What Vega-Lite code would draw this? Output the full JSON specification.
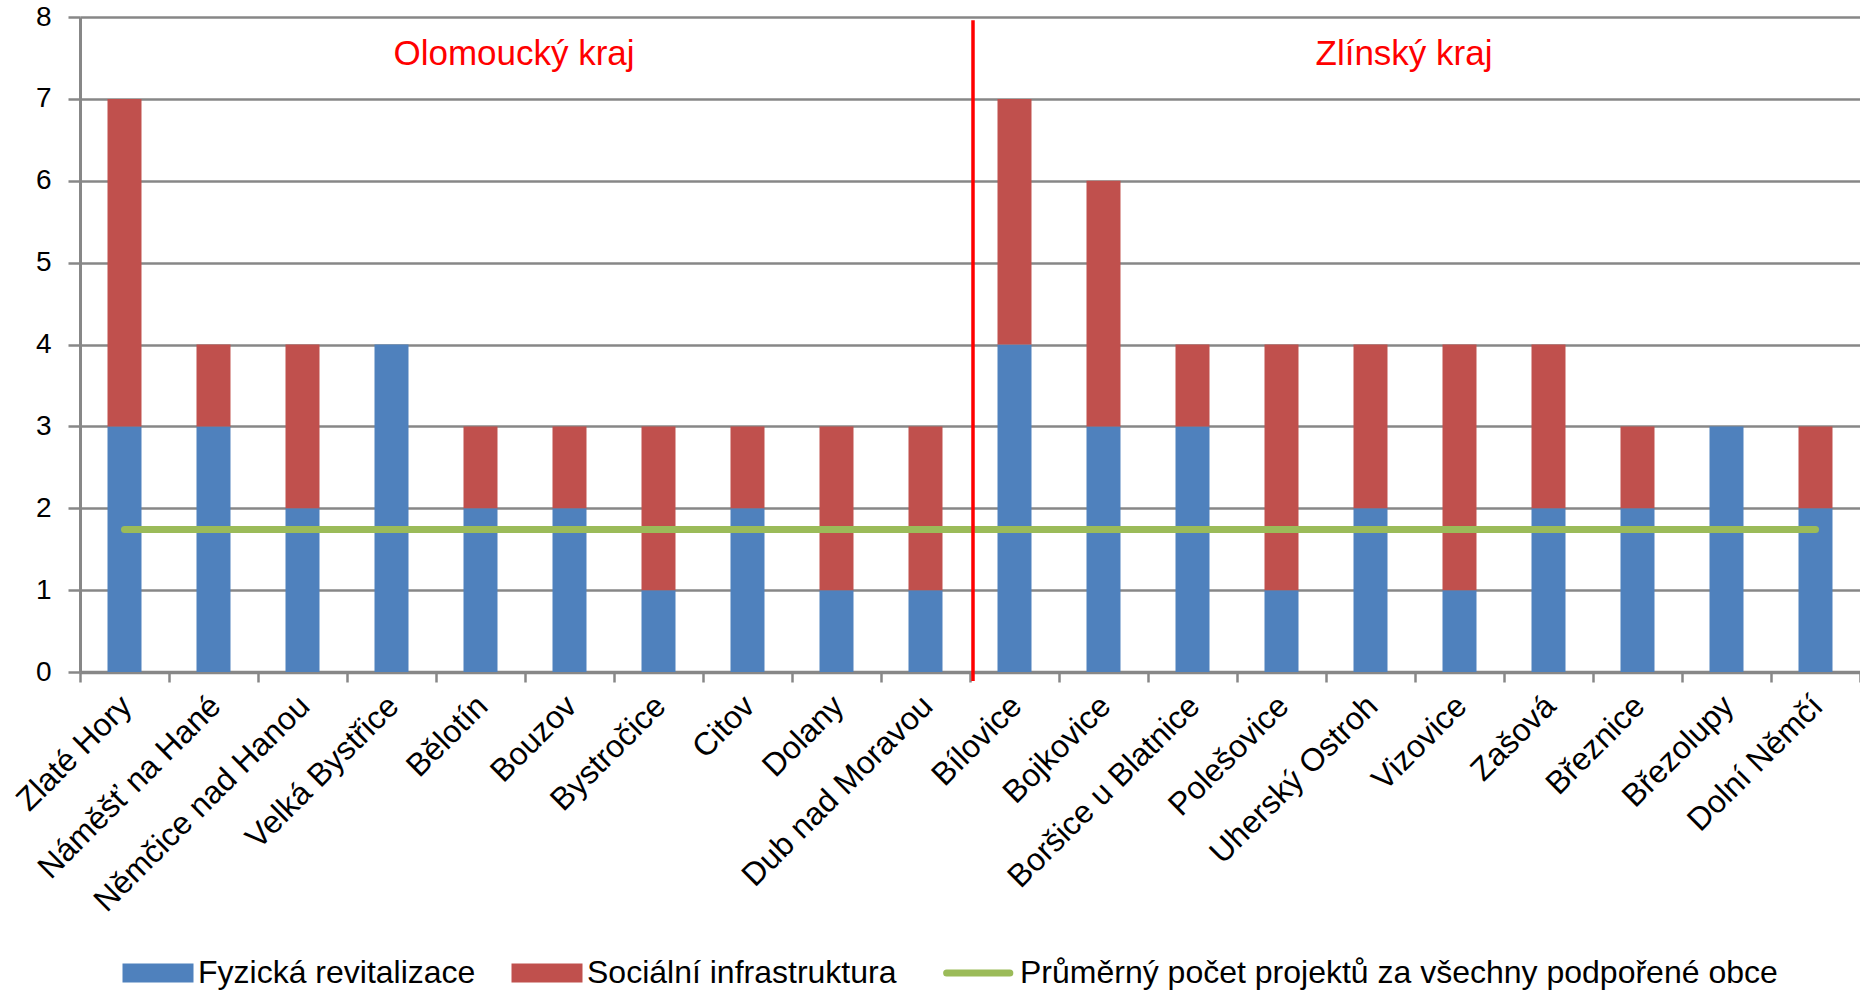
{
  "$schema": "https://vega.github.io/schema/vega-lite/v6.json",
  "width": 1780,
  "height": 655,
  "autosize": {"type": "none"},
  "padding": {"left": 80, "top": 17, "right": 0, "bottom": 318},
  "background": "white",
  "config": {
    "font": "Liberation Sans",
    "view": {"stroke": null},
    "axis": {"labelColor": "black", "titleColor": "black"}
  },
  "datasets": {
    "projekty": [
      {"obec": "Zlaté Hory", "kraj": "Olomoucký kraj", "typ": "Fyzická revitalizace", "pocet": 3},
      {"obec": "Zlaté Hory", "kraj": "Olomoucký kraj", "typ": "Sociální infrastruktura", "pocet": 4},
      {"obec": "Náměšť na Hané", "kraj": "Olomoucký kraj", "typ": "Fyzická revitalizace", "pocet": 3},
      {"obec": "Náměšť na Hané", "kraj": "Olomoucký kraj", "typ": "Sociální infrastruktura", "pocet": 1},
      {"obec": "Němčice nad Hanou", "kraj": "Olomoucký kraj", "typ": "Fyzická revitalizace", "pocet": 2},
      {"obec": "Němčice nad Hanou", "kraj": "Olomoucký kraj", "typ": "Sociální infrastruktura", "pocet": 2},
      {"obec": "Velká Bystřice", "kraj": "Olomoucký kraj", "typ": "Fyzická revitalizace", "pocet": 4},
      {"obec": "Velká Bystřice", "kraj": "Olomoucký kraj", "typ": "Sociální infrastruktura", "pocet": 0},
      {"obec": "Bělotín", "kraj": "Olomoucký kraj", "typ": "Fyzická revitalizace", "pocet": 2},
      {"obec": "Bělotín", "kraj": "Olomoucký kraj", "typ": "Sociální infrastruktura", "pocet": 1},
      {"obec": "Bouzov", "kraj": "Olomoucký kraj", "typ": "Fyzická revitalizace", "pocet": 2},
      {"obec": "Bouzov", "kraj": "Olomoucký kraj", "typ": "Sociální infrastruktura", "pocet": 1},
      {"obec": "Bystročice", "kraj": "Olomoucký kraj", "typ": "Fyzická revitalizace", "pocet": 1},
      {"obec": "Bystročice", "kraj": "Olomoucký kraj", "typ": "Sociální infrastruktura", "pocet": 2},
      {"obec": "Citov", "kraj": "Olomoucký kraj", "typ": "Fyzická revitalizace", "pocet": 2},
      {"obec": "Citov", "kraj": "Olomoucký kraj", "typ": "Sociální infrastruktura", "pocet": 1},
      {"obec": "Dolany", "kraj": "Olomoucký kraj", "typ": "Fyzická revitalizace", "pocet": 1},
      {"obec": "Dolany", "kraj": "Olomoucký kraj", "typ": "Sociální infrastruktura", "pocet": 2},
      {"obec": "Dub nad Moravou", "kraj": "Olomoucký kraj", "typ": "Fyzická revitalizace", "pocet": 1},
      {"obec": "Dub nad Moravou", "kraj": "Olomoucký kraj", "typ": "Sociální infrastruktura", "pocet": 2},
      {"obec": "Bílovice", "kraj": "Zlínský kraj", "typ": "Fyzická revitalizace", "pocet": 4},
      {"obec": "Bílovice", "kraj": "Zlínský kraj", "typ": "Sociální infrastruktura", "pocet": 3},
      {"obec": "Bojkovice", "kraj": "Zlínský kraj", "typ": "Fyzická revitalizace", "pocet": 3},
      {"obec": "Bojkovice", "kraj": "Zlínský kraj", "typ": "Sociální infrastruktura", "pocet": 3},
      {"obec": "Boršice u Blatnice", "kraj": "Zlínský kraj", "typ": "Fyzická revitalizace", "pocet": 3},
      {"obec": "Boršice u Blatnice", "kraj": "Zlínský kraj", "typ": "Sociální infrastruktura", "pocet": 1},
      {"obec": "Polešovice", "kraj": "Zlínský kraj", "typ": "Fyzická revitalizace", "pocet": 1},
      {"obec": "Polešovice", "kraj": "Zlínský kraj", "typ": "Sociální infrastruktura", "pocet": 3},
      {"obec": "Uherský Ostroh", "kraj": "Zlínský kraj", "typ": "Fyzická revitalizace", "pocet": 2},
      {"obec": "Uherský Ostroh", "kraj": "Zlínský kraj", "typ": "Sociální infrastruktura", "pocet": 2},
      {"obec": "Vizovice", "kraj": "Zlínský kraj", "typ": "Fyzická revitalizace", "pocet": 1},
      {"obec": "Vizovice", "kraj": "Zlínský kraj", "typ": "Sociální infrastruktura", "pocet": 3},
      {"obec": "Zašová", "kraj": "Zlínský kraj", "typ": "Fyzická revitalizace", "pocet": 2},
      {"obec": "Zašová", "kraj": "Zlínský kraj", "typ": "Sociální infrastruktura", "pocet": 2},
      {"obec": "Březnice", "kraj": "Zlínský kraj", "typ": "Fyzická revitalizace", "pocet": 2},
      {"obec": "Březnice", "kraj": "Zlínský kraj", "typ": "Sociální infrastruktura", "pocet": 1},
      {"obec": "Březolupy", "kraj": "Zlínský kraj", "typ": "Fyzická revitalizace", "pocet": 3},
      {"obec": "Březolupy", "kraj": "Zlínský kraj", "typ": "Sociální infrastruktura", "pocet": 0},
      {"obec": "Dolní Němčí", "kraj": "Zlínský kraj", "typ": "Fyzická revitalizace", "pocet": 2},
      {"obec": "Dolní Němčí", "kraj": "Zlínský kraj", "typ": "Sociální infrastruktura", "pocet": 1}
    ],
    "prumer": [
      {"obec": "Zlaté Hory", "typ": "Průměrný počet projektů za všechny podpořené obce", "pocet": 1.74},
      {"obec": "Náměšť na Hané", "typ": "Průměrný počet projektů za všechny podpořené obce", "pocet": 1.74},
      {"obec": "Němčice nad Hanou", "typ": "Průměrný počet projektů za všechny podpořené obce", "pocet": 1.74},
      {"obec": "Velká Bystřice", "typ": "Průměrný počet projektů za všechny podpořené obce", "pocet": 1.74},
      {"obec": "Bělotín", "typ": "Průměrný počet projektů za všechny podpořené obce", "pocet": 1.74},
      {"obec": "Bouzov", "typ": "Průměrný počet projektů za všechny podpořené obce", "pocet": 1.74},
      {"obec": "Bystročice", "typ": "Průměrný počet projektů za všechny podpořené obce", "pocet": 1.74},
      {"obec": "Citov", "typ": "Průměrný počet projektů za všechny podpořené obce", "pocet": 1.74},
      {"obec": "Dolany", "typ": "Průměrný počet projektů za všechny podpořené obce", "pocet": 1.74},
      {"obec": "Dub nad Moravou", "typ": "Průměrný počet projektů za všechny podpořené obce", "pocet": 1.74},
      {"obec": "Bílovice", "typ": "Průměrný počet projektů za všechny podpořené obce", "pocet": 1.74},
      {"obec": "Bojkovice", "typ": "Průměrný počet projektů za všechny podpořené obce", "pocet": 1.74},
      {"obec": "Boršice u Blatnice", "typ": "Průměrný počet projektů za všechny podpořené obce", "pocet": 1.74},
      {"obec": "Polešovice", "typ": "Průměrný počet projektů za všechny podpořené obce", "pocet": 1.74},
      {"obec": "Uherský Ostroh", "typ": "Průměrný počet projektů za všechny podpořené obce", "pocet": 1.74},
      {"obec": "Vizovice", "typ": "Průměrný počet projektů za všechny podpořené obce", "pocet": 1.74},
      {"obec": "Zašová", "typ": "Průměrný počet projektů za všechny podpořené obce", "pocet": 1.74},
      {"obec": "Březnice", "typ": "Průměrný počet projektů za všechny podpořené obce", "pocet": 1.74},
      {"obec": "Březolupy", "typ": "Průměrný počet projektů za všechny podpořené obce", "pocet": 1.74},
      {"obec": "Dolní Němčí", "typ": "Průměrný počet projektů za všechny podpořené obce", "pocet": 1.74}
    ],
    "hranice": [
      {"obec": "Bílovice"}
    ],
    "kraje": [
      {"kraj": "Olomoucký kraj", "obec": "Bouzov", "pozice": 7.55},
      {"kraj": "Zlínský kraj", "obec": "Vizovice", "pozice": 7.55}
    ]
  },
  "layer": [
    {
      "data": {"name": "projekty"},
      "mark": {"type": "bar", "width": {"band": 0.382}},
      "encoding": {
        "x": {
          "field": "obec", "type": "nominal", "sort": null,
          "scale": {"paddingInner": 0, "paddingOuter": 0},
          "axis": {
            "title": null, "labelAngle": -45, "labelFontSize": 32, "labelLimit": 0,
            "labelPadding": 8, "labelOffset": -9, "tickBand": "extent", "tickSize": 10, "tickWidth": 2.5,
            "tickColor": "#878787", "domainColor": "#878787", "domainWidth": 3.5, "grid": false
          }
        },
        "y": {
          "field": "pocet", "type": "quantitative", "stack": "zero",
          "scale": {"domain": [0, 8], "nice": false},
          "axis": {
            "title": null, "values": [0, 1, 2, 3, 4, 5, 6, 7, 8], "format": "d", "labelFontSize": 28,
            "labelPadding": 17, "tickSize": 12, "tickWidth": 2.5, "tickColor": "#878787",
            "domainColor": "#878787", "domainWidth": 3, "gridColor": "#878787", "gridWidth": 2.5
          }
        },
        "color": {
          "field": "typ", "type": "nominal",
          "scale": {
            "domain": ["Fyzická revitalizace", "Sociální infrastruktura", "Průměrný počet projektů za všechny podpořené obce"],
            "range": ["#4F81BD", "#C0504D", "#9BBB59"]
          },
          "legend": {
            "title": null, "orient": "none", "legendX": 62, "legendY": 940, "direction": "horizontal",
            "padding": 0, "labelFontSize": 32, "labelLimit": 0, "labelOffset": 24, "columnPadding": 35,
            "symbolSize": 20164, "symbolStrokeWidth": 7,
            "encode": {
              "symbols": {
                "update": {
                  "shape": {"signal": "datum.value === 'Průměrný počet projektů za všechny podpořené obce' ? 'M-0.47,0L0.42,0' : 'M-0.5,-0.134L0.5,-0.134L0.5,0.134L-0.5,0.134Z'"},
                  "fill": {"signal": "datum.value === 'Průměrný počet projektů za všechny podpořené obce' ? 'transparent' : scale('color', datum.value)"},
                  "stroke": {"signal": "scale('color', datum.value)"},
                  "strokeWidth": {"signal": "datum.value === 'Průměrný počet projektů za všechny podpořené obce' ? 7 : 0"},
                  "strokeCap": {"value": "round"},
                  "opacity": {"value": 1},
                  "fillOpacity": {"value": 1},
                  "strokeOpacity": {"value": 1}
                }
              }
            }
          }
        },
        "order": {"field": "typ", "sort": "ascending"}
      }
    },
    {
      "data": {"name": "prumer"},
      "mark": {"type": "line", "strokeWidth": 7, "strokeCap": "round"},
      "encoding": {
        "x": {"field": "obec", "type": "nominal", "sort": null},
        "y": {"field": "pocet", "type": "quantitative"},
        "color": {"field": "typ", "type": "nominal"}
      }
    },
    {
      "data": {"name": "hranice"},
      "mark": {"type": "rule", "color": "#FF0000", "strokeWidth": 3.5, "xOffset": 3},
      "encoding": {
        "x": {"field": "obec", "type": "nominal", "sort": null, "bandPosition": 0},
        "y": {"datum": 7.96},
        "y2": {"datum": -0.11}
      }
    },
    {
      "data": {"name": "kraje"},
      "mark": {"type": "text", "color": "#FF0000", "fontSize": 35, "align": "center", "baseline": "middle", "dx": -11},
      "encoding": {
        "x": {"field": "obec", "type": "nominal", "sort": null, "bandPosition": 0},
        "y": {"field": "pozice", "type": "quantitative"},
        "text": {"field": "kraj"}
      }
    }
  ]
}
